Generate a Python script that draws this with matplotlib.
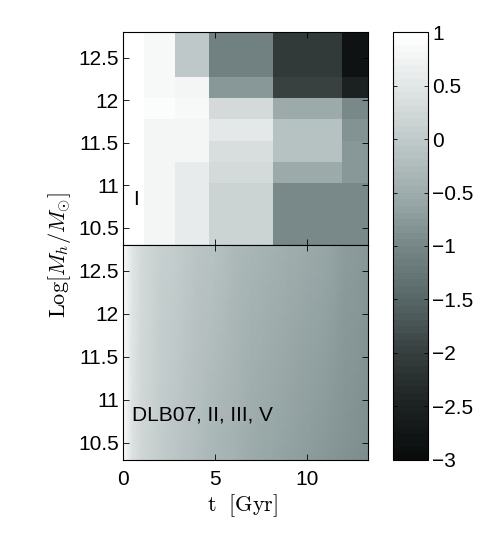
import matplotlib
matplotlib.use("Agg")
import matplotlib.pyplot as plt
import numpy as np
from matplotlib.colors import LinearSegmentedColormap

plt.rcParams["font.family"] = ["Liberation Sans", "DejaVu Sans"]
plt.rcParams["mathtext.fontset"] = "cm"

# top panel (model I): binned values, rows = mass bins, cols = time bins
t_edges = [0, 1.16, 2.84, 4.68, 8.12, 11.9, 13.35]
m_edges = [10.275, 11.025, 11.275, 11.525, 11.775, 12.025, 12.275, 12.8]
vals_I = [
    [1.0, 0.77, 0.60, 0.18, -1.00, -0.98],   # 10.3 - 11.0
    [1.0, 0.78, 0.62, 0.28, -0.52, -0.77],   # 11.0 - 11.25
    [1.0, 0.78, 0.75, 0.33, -0.15, -0.77],   # 11.25 - 11.5
    [1.0, 0.78, 0.75, 0.50, -0.15, -0.82],   # 11.5 - 11.75
    [1.0, 0.88, 0.85, 0.28, -0.52, -0.98],   # 11.75 - 12.0
    [1.0, 0.87, 0.75, -0.78, -1.95, -2.55],  # 12.0 - 12.25
    [1.0, 0.87, -0.02, -1.08, -2.10, -2.85], # 12.25 - 12.8
]

# bottom panel (DLB07, II, III, V): values read along low / high mass edge
t_bot = [0, 0.15, 0.5, 1, 2, 3, 4, 5, 6, 7, 8, 9, 10, 11, 12, 13.35]
m_bot = [10.3, 12.8]
v_low = [1.0, 0.75, 0.42, 0.22, 0.02, -0.12, -0.24, -0.34, -0.43, -0.52,
         -0.60, -0.67, -0.74, -0.80, -0.86, -0.93]
v_high = [1.0, 0.80, 0.48, 0.30, 0.12, 0.0, -0.10, -0.18, -0.26, -0.34,
          -0.41, -0.48, -0.55, -0.62, -0.69, -0.77]

yticks = [10.5, 11, 11.5, 12, 12.5]
cticks = [1, 0.5, 0, -0.5, -1, -1.5, -2, -2.5, -3]

# grey colormap with a slight teal tint, 64 levels like the original
cmap = LinearSegmentedColormap.from_list(
    "tealgray",
    [(0.0, "#0a0c0c"), (0.125, "#1d2222"), (0.25, "#373f3f"),
     (0.375, "#586767"), (0.5, "#778787"), (0.625, "#9eacac"),
     (0.75, "#c0c9c9"), (0.875, "#e1e5e5"), (1.0, "#ffffff")],
    N=64,
)
vmin, vmax = -3, 1
fs = 15

fig = plt.figure(figsize=(4.91, 5.37), dpi=100)
ax1 = fig.add_axes([0.2505, 0.5438, 0.499, 0.3966])
ax2 = fig.add_axes([0.2505, 0.1434, 0.499, 0.4004])
cax = fig.add_axes([0.8004, 0.1434, 0.0713, 0.797])

mesh = ax1.pcolormesh(t_edges, m_edges, np.array(vals_I), cmap=cmap,
                      vmin=vmin, vmax=vmax, shading="flat")
ax2.pcolormesh(t_bot, m_bot, np.array([v_low, v_high]), cmap=cmap,
               vmin=vmin, vmax=vmax, shading="gouraud")

for ax in (ax1, ax2):
    ax.set_xlim(0, 13.3)
    ax.set_ylim(10.3, 12.8)
    ax.set_xticks([0, 5, 10])
    ax.set_yticks(yticks)
    ax.set_yticklabels(["10.5", "11", "11.5", "12", "12.5"])
    ax.tick_params(direction="in", length=4, width=0.6, top=True, right=True,
                   labelsize=fs)
    ax.tick_params(axis="y", pad=3)
    ax.tick_params(axis="x", pad=7)
    for s in ax.spines.values():
        s.set_linewidth(0.8)
ax1.tick_params(labelbottom=False)

ax1.text(0.55, 10.83, "I", fontsize=fs, va="center", ha="left")
ax2.text(0.5, 10.82, "DLB07, II, III, V", fontsize=fs, va="center", ha="left")

cb = fig.colorbar(mesh, cax=cax, ticks=cticks)
cb.ax.set_yticklabels(["1", "0.5", "0", "\u22120.5", "\u22121", "\u22121.5",
                       "\u22122", "\u22122.5", "\u22123"])
cb.ax.tick_params(direction="in", length=3, width=0.6, labelsize=fs, left=True,
                  right=True, pad=3)
cb.outline.set_linewidth(0.8)

fig.text(0.495, 0.058, r"$\mathrm{t\ \ [Gyr]}$", fontsize=16, ha="center",
         va="center")
fig.text(0.122, 0.525, r"$\mathrm{Log}[M_h/M_{\odot}]$", fontsize=16,
         rotation=90, ha="center", va="center")

fig.savefig("out.png", dpi=100)
